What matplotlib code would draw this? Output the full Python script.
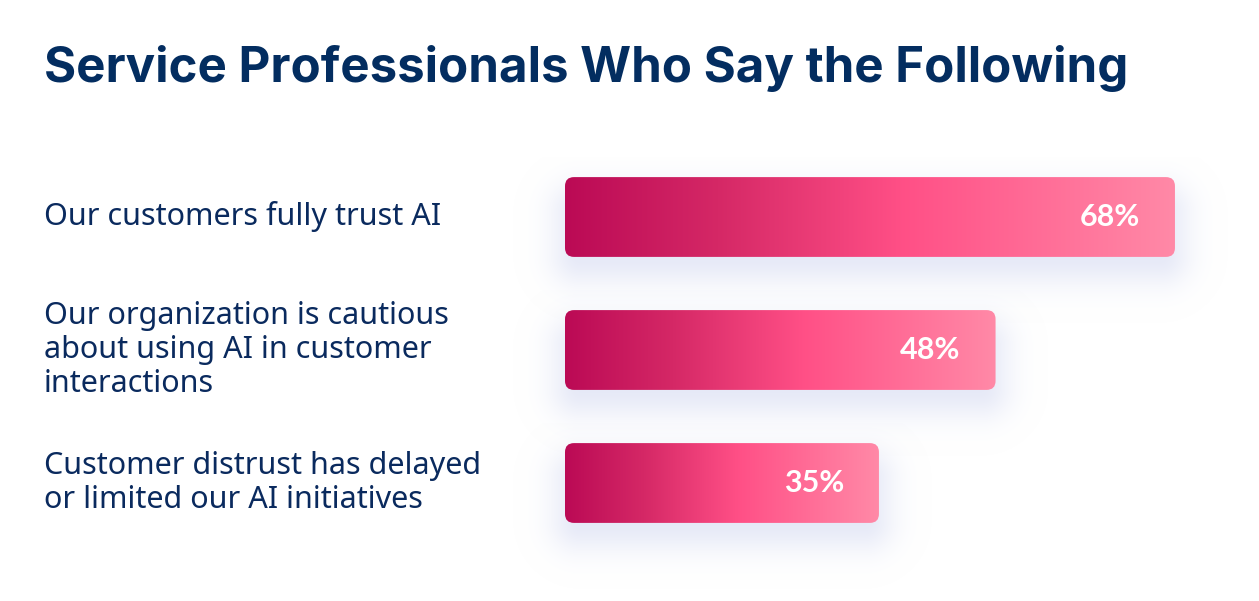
import numpy as np
import matplotlib
matplotlib.use("Agg")
import matplotlib.pyplot as plt
from matplotlib.patches import FancyBboxPatch
from matplotlib.colors import LinearSegmentedColormap
import matplotlib.transforms as mtransforms

# --- data ---
title = "Service Professionals Who Say the Following"
labels = [
    "Our customers fully trust AI",
    "Our organization is cautious\nabout using AI in customer\ninteractions",
    "Customer distrust has delayed\nor limited our AI initiatives",
]
values = [68, 48, 35]

# --- style ---
W, H = 1259, 601
NAVY = "#0a2a5e"
PX_PER_PCT = 8.97
BAR_X0 = 565          # pixel where 0% sits
ROW0, ROW_STEP = 217, 133
BAR_H = 0.60
grad = LinearSegmentedColormap.from_list(
    "pink", [(0.0, "#bb0a55"), (0.25, "#d52866"), (0.55, "#ff4f86"),
             (1.0, "#ff89a7")], N=256)

fig = plt.figure(figsize=(W / 100, H / 100), dpi=100)
fig.patch.set_facecolor("white")
ax = fig.add_axes([0, 0, 1, 1])
ax.set_xlim(-BAR_X0 / PX_PER_PCT, (W - BAR_X0) / PX_PER_PCT)
ax.set_ylim((H - ROW0) / ROW_STEP, -ROW0 / ROW_STEP)
ax.axis("off")

aspect = (1 / ROW_STEP) / (1 / PX_PER_PCT)
gx = np.linspace(0, 1, 256).reshape(1, -1)

for i, v in enumerate(values):
    y0 = i - BAR_H / 2
    # soft lavender shadow under the bar
    pad_x, pad_top, pad_bot = 70, 20, 90
    x_px = np.arange(-pad_x, v * PX_PER_PCT + pad_x)
    y_px = np.arange(-pad_top, 80 + pad_bot)
    XX, YY = np.meshgrid(x_px, y_px)
    cx0, cx1 = 15, v * PX_PER_PCT - 15
    cy0, cy1 = 35, 78
    dx = np.maximum(np.maximum(cx0 - XX, XX - cx1), 0)
    dy = np.maximum(np.maximum(cy0 - YY, YY - cy1), 0)
    d = np.hypot(dx, dy)
    alpha = 0.6 * np.exp(-(d / 30.0) ** 2)
    sh = np.zeros(XX.shape + (4,))
    sh[..., 0], sh[..., 1], sh[..., 2] = 0.84, 0.86, 0.95
    sh[..., 3] = alpha
    ax.imshow(sh, extent=(-pad_x / PX_PER_PCT, v + pad_x / PX_PER_PCT,
                          y0 + (80 + pad_bot) / ROW_STEP, y0 - pad_top / ROW_STEP),
              aspect="auto", interpolation="bilinear", zorder=1)

    box = FancyBboxPatch((0, y0), v, BAR_H,
                         boxstyle="round,pad=0,rounding_size=%f" % (9 / PX_PER_PCT),
                         mutation_aspect=aspect, facecolor="none",
                         edgecolor="none", zorder=2)
    ax.add_patch(box)
    im = ax.imshow(gx, cmap=grad, extent=(0, v, y0 + BAR_H, y0),
                   aspect="auto", interpolation="bilinear", zorder=2)
    im.set_clip_path(box)
    ax.text(v - 35 / PX_PER_PCT, i, f"{v}%", color="white", fontsize=22,
            fontweight="bold", family="Lato", ha="right", va="center",
            zorder=3)

lab_tr = mtransforms.blended_transform_factory(fig.transFigure, ax.transData)
for i, lab in enumerate(labels):
    ax.text(44 / W, i, lab, transform=lab_tr, color=NAVY, fontsize=22,
            family="Noto Sans", ha="left", va="center", linespacing=1.18)

fig.text(44 / W, 1 - 82 / H, title, color="#032d60", fontsize=35.4,
         fontweight="bold", family="Inter", ha="left", va="baseline")

fig.savefig("out.png", dpi=100, facecolor="white")
